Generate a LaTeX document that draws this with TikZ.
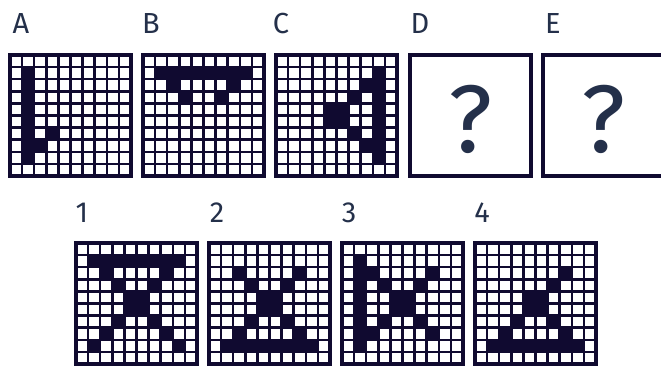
\documentclass[tikz,border=0pt]{standalone}
\usepackage{fontspec}
\setmainfont{Fira Sans}
\definecolor{ink}{RGB}{16,10,48}
\definecolor{txt}{RGB}{36,48,74}
\tikzset{
  cellfill/.style={fill=ink},
  gridline/.style={draw=ink, line width=2.5pt},
  panel/.style={draw=ink, line width=3.2pt, minimum width=121pt, minimum height=121pt, inner sep=0pt, outer sep=0pt},
  lbl/.style={text=txt, font=\fontsize{29}{30}\selectfont, anchor=base, inner sep=0pt},
  qmark/.style={text=txt, font=\fontsize{96}{96}\selectfont, anchor=base, inner sep=0pt},
}
\newcommand\mygrid[4]{% #1 name, #2 left, #3 top, #4 list r/c
  \foreach \gr/\gc in {#4} {
    \fill[cellfill] ({#2+(\gc-1)*12.1}, {#3+(\gr-1)*12.1}) rectangle ++(12.1,12.1);
  }
  \foreach \gi in {1,2,3,4,5,6,7,8,9} {
    \draw[gridline] ({#2+\gi*12.1}, #3) -- ++(0,121);
    \draw[gridline] (#2, {#3+\gi*12.1}) -- ++(121,0);
  }
  \node[panel] (#1) at ({#2+60.5}, {#3+60.5}) {};
}
\begin{document}
\begin{tikzpicture}[x=1pt, y=-1pt]
\useasboundingbox (0,0) rectangle (661,365);
% top row labels
\node[lbl] (lA) at (21,33) {A};
\node[lbl] (lB) at (151,33) {B};
\node[lbl] (lC) at (281,33) {C};
\node[lbl] (lD) at (420,33) {D};
\node[lbl] (lE) at (553,33) {E};
% A
\mygrid{pA}{10}{55}{2/2,3/2,4/2,5/2,6/2,7/2,8/2,9/2,8/3,7/4}
% B
\mygrid{pB}{143}{55}{2/2,2/3,2/4,2/5,2/6,2/7,2/8,2/9,3/3,3/8,4/4,4/7}
% C
\mygrid{pC}{276}{55}{2/9,3/9,4/9,5/9,6/9,7/9,8/9,9/9,3/8,4/7,5/5,5/6,6/5,6/6,7/7,8/8}
% D, E
\node[panel] (pD) at (470.5,115.5) {};
\node[qmark] (qD) at (pD.center) [yshift=-37pt] {?};
\node[panel] (pE) at (603.5,115.5) {};
\node[qmark] (qE) at (pE.center) [yshift=-37pt] {?};
% bottom labels
\node[lbl] (l1) at (82,222) {1};
\node[lbl] (l2) at (217,222) {2};
\node[lbl] (l3) at (349,222) {3};
\node[lbl] (l4) at (482,222) {4};
% options
\mygrid{o1}{76}{243}{2/2,2/3,2/4,2/5,2/6,2/7,2/8,2/9,3/3,3/8,4/4,4/7,5/5,5/6,6/5,6/6,7/4,7/7,8/3,8/8,9/2,9/9}
\mygrid{o2}{209}{243}{3/3,3/8,4/4,4/7,5/5,5/6,6/5,6/6,7/4,7/7,8/3,8/8,9/2,9/3,9/4,9/5,9/6,9/7,9/8,9/9}
\mygrid{o3}{342}{243}{2/2,3/2,4/2,5/2,6/2,7/2,8/2,9/2,3/3,3/8,4/4,4/7,5/5,5/6,6/5,6/6,7/4,7/7,8/3,8/8}
\mygrid{o4}{475}{243}{3/8,4/7,5/5,5/6,6/5,6/6,7/4,7/7,8/3,8/8,9/2,9/3,9/4,9/5,9/6,9/7,9/8,9/9}
\end{tikzpicture}
\end{document}
